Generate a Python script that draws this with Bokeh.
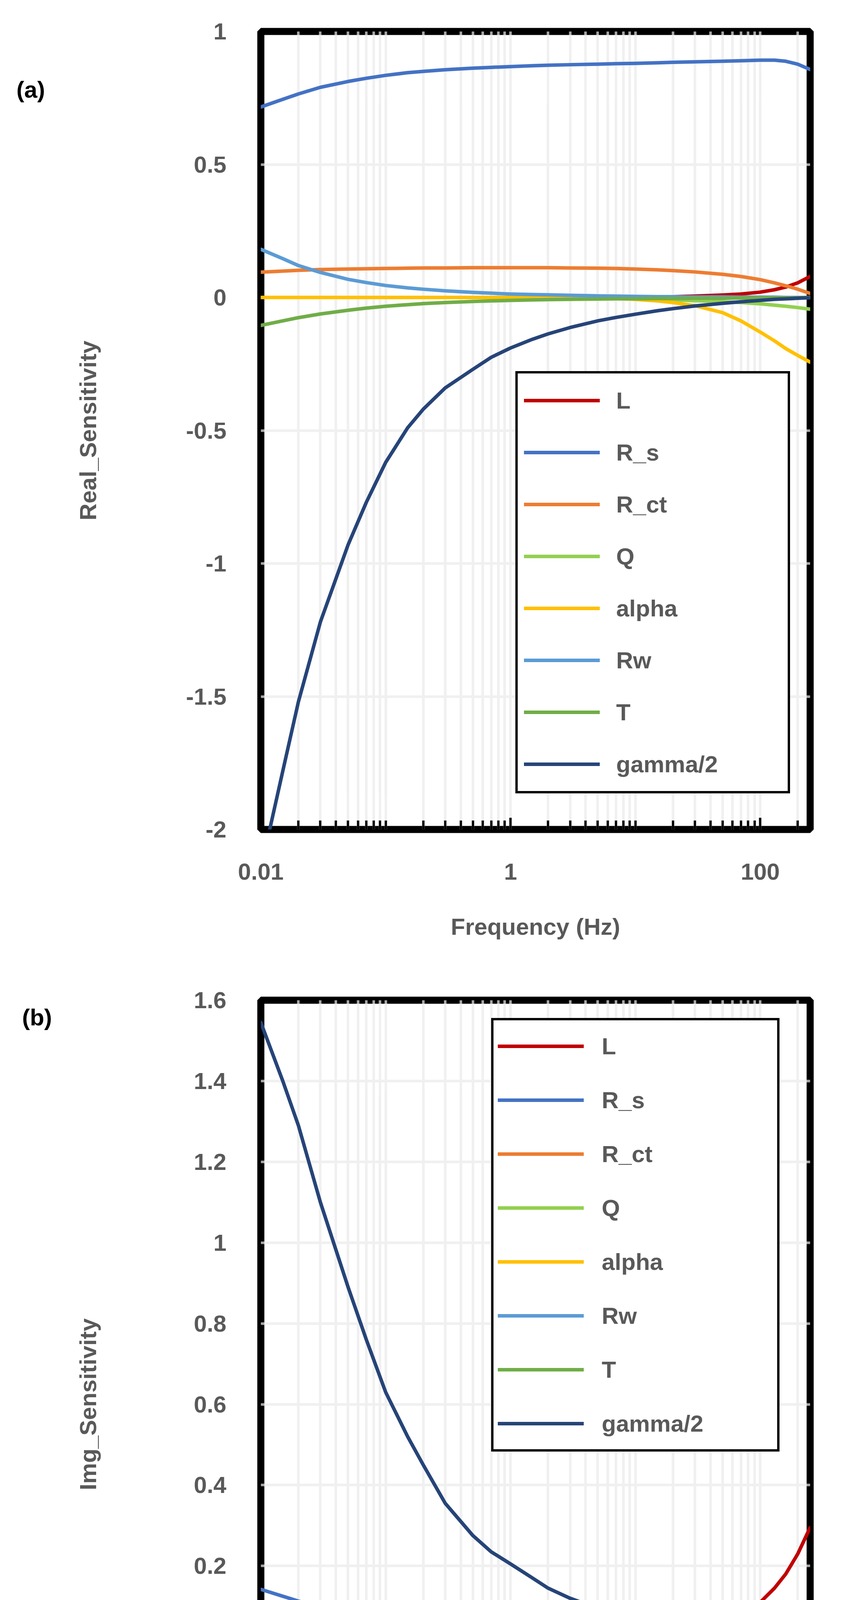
import math
from bokeh.plotting import figure
from bokeh.models import (Range1d, FixedTicker, Legend, LegendItem, Label,
                          BoxAnnotation)
from bokeh.layouts import column
from bokeh.embed import file_html
from bokeh.resources import INLINE

# ---------------- data ----------------
FREQ = [0.01, 0.015, 0.02, 0.03, 0.05, 0.07, 0.1, 0.15, 0.2, 0.3, 0.5, 0.7,
        1, 1.5, 2, 3, 5, 7, 10, 15, 20, 30, 50, 70, 100, 130, 160, 200, 251]

SERIES = ["L", "R_s", "R_ct", "Q", "alpha", "Rw", "T", "gamma/2"]
COLORS = ["#C00000", "#4472C4", "#ED7D31", "#92D050", "#FFC000", "#5B9BD5",
          "#70AD47", "#264478"]

# (a) real part sensitivities
REAL_L = [0, 0, 0, 0, 0, 0, 0, 0, 0, 0, 0, 0, 0, 0, 0, 0, 0.0005, 0.001, 0.001,
          0.002, 0.003, 0.005, 0.009, 0.013, 0.02, 0.029, 0.039, 0.055, 0.079]
REAL_RS = [0.716, 0.745, 0.765, 0.79, 0.812, 0.824, 0.835, 0.845, 0.85, 0.856,
           0.862, 0.865, 0.868, 0.871, 0.873, 0.875, 0.877, 0.879, 0.88, 0.882,
           0.884, 0.886, 0.888, 0.89, 0.892, 0.892, 0.888, 0.877, 0.857]
REAL_RCT = [0.095, 0.099, 0.102, 0.105, 0.107, 0.108, 0.109, 0.11, 0.111, 0.111,
            0.112, 0.112, 0.112, 0.112, 0.112, 0.111, 0.11, 0.109, 0.107, 0.104,
            0.101, 0.096, 0.087, 0.079, 0.067, 0.055, 0.044, 0.031, 0.015]
REAL_Q = [0, 0, 0, 0, 0, 0, 0, 0, 0, 0, 0, 0, 0, 0, 0, -0.001, -0.002, -0.003,
          -0.004, -0.007, -0.009, -0.012, -0.016, -0.019, -0.024, -0.029, -0.033,
          -0.038, -0.044]
REAL_ALPHA = [0, 0, 0, 0, 0, 0, 0, 0, 0, 0, 0, 0, 0, 0, -0.001, -0.001, -0.003,
              -0.004, -0.007, -0.013, -0.019, -0.031, -0.057, -0.088, -0.13,
              -0.163, -0.192, -0.218, -0.243]
REAL_RW = [0.181, 0.146, 0.12, 0.094, 0.068, 0.056, 0.045, 0.036, 0.031, 0.025,
           0.019, 0.016, 0.013, 0.011, 0.01, 0.008, 0.006, 0.005, 0.004, 0.003,
           0.003, 0.002, 0.002, 0.001, 0.001, 0.001, 0, 0, 0]
REAL_T = [-0.105, -0.088, -0.076, -0.062, -0.048, -0.04, -0.033, -0.027, -0.023,
          -0.019, -0.015, -0.013, -0.011, -0.009, -0.008, -0.007, -0.006, -0.005,
          -0.005, -0.004, -0.004, -0.003, -0.003, -0.002, -0.002, -0.001, -0.001,
          -0.001, 0]
REAL_GAMMA = [-2.15, -1.78, -1.52, -1.22, -0.93, -0.77, -0.62, -0.49, -0.42,
              -0.34, -0.27, -0.225, -0.19, -0.157, -0.137, -0.113, -0.088, -0.075,
              -0.063, -0.05, -0.042, -0.032, -0.022, -0.016, -0.011, -0.007,
              -0.005, -0.003, -0.001]

# (b) imaginary part sensitivities
IMG_L = [0, 0, 0, 0, 0, 0, 0, 0, 0, 0, 0, 0, 0, 0.001, 0.002, 0.003, 0.005,
         0.008, 0.011, 0.016, 0.022, 0.032, 0.052, 0.075, 0.11, 0.145, 0.18,
         0.23, 0.295]
IMG_RS = [0.142, 0.125, 0.113, 0.098, 0.08, 0.07, 0.06, 0.05, 0.044, 0.036,
          0.028, 0.023, 0.019, 0.015, 0.012, 0.009, 0.005, 0.002, -0.001, -0.005,
          -0.009, -0.016, -0.032, -0.05, -0.075, -0.1, -0.13, -0.175, -0.235]
IMG_RCT = [0.02, 0.017, 0.015, 0.013, 0.011, 0.009, 0.008, 0.007, 0.006, 0.005,
           0.003, 0.002, 0.001, -0.001, -0.002, -0.004, -0.008, -0.011, -0.015,
           -0.02, -0.024, -0.03, -0.038, -0.045, -0.051, -0.056, -0.057, -0.056,
           -0.052]
IMG_Q = [0, 0, 0, 0, 0, 0, 0, 0, 0, 0, 0, 0, 0, 0, 0, -0.001, -0.002, -0.003,
         -0.004, -0.005, -0.006, -0.008, -0.011, -0.013, -0.014, -0.013, -0.01,
         -0.006, -0.001]
IMG_ALPHA = [-0.002, -0.002, -0.002, -0.002, -0.002, -0.002, -0.002, -0.002,
             -0.002, -0.002, -0.002, -0.002, -0.003, -0.004, -0.005, -0.008,
             -0.014, -0.019, -0.026, -0.035, -0.042, -0.055, -0.075, -0.092,
             -0.105, -0.104, -0.092, -0.068, -0.03]
IMG_RW = [-0.158, -0.135, -0.12, -0.1, -0.08, -0.068, -0.057, -0.047, -0.041,
          -0.034, -0.026, -0.021, -0.017, -0.013, -0.011, -0.008, -0.006, -0.004,
          -0.003, -0.002, -0.002, -0.001, -0.001, 0, 0, 0, 0, 0, 0]
IMG_T = [0.092, 0.081, 0.074, 0.064, 0.053, 0.046, 0.04, 0.033, 0.029, 0.024,
         0.018, 0.015, 0.012, 0.009, 0.008, 0.006, 0.004, 0.003, 0.002, 0.002,
         0.001, 0.001, 0, 0, 0, 0, 0, 0, 0]
IMG_GAMMA = [1.545, 1.4, 1.29, 1.1, 0.89, 0.76, 0.63, 0.52, 0.45, 0.355, 0.275,
             0.235, 0.205, 0.17, 0.145, 0.12, 0.095, 0.08, 0.066, 0.055, 0.048,
             0.04, 0.031, 0.026, 0.02, 0.016, 0.013, 0.01, 0.007]

REAL_VALUES = [REAL_L, REAL_RS, REAL_RCT, REAL_Q, REAL_ALPHA, REAL_RW, REAL_T, REAL_GAMMA]
IMG_VALUES = [IMG_L, IMG_RS, IMG_RCT, IMG_Q, IMG_ALPHA, IMG_RW, IMG_T, IMG_GAMMA]

X_TICKS = [0.01, 1, 100]
X_TICK_LABELS = ["0.01", "1", "100"]
Y1_TICKS = [-2, -1.5, -1, -0.5, 0, 0.5, 1]
Y1_TICK_LABELS = ["-2", "-1.5", "-1", "-0.5", "0", "0.5", "1"]
Y2_TICKS = [-0.4, -0.2, 0, 0.2, 0.4, 0.6, 0.8, 1, 1.2, 1.4, 1.6]
Y2_TICK_LABELS = ["-0.4", "-0.2", "0", "0.2", "0.4", "0.6", "0.8", "1", "1.2",
                  "1.4", "1.6"]

X_LABEL = "Frequency (Hz)"
Y1_LABEL = "Real_Sensitivity"
Y2_LABEL = "Img_Sensitivity"

# ---------------- styling ----------------
FONT = "Liberation Sans"
FS = "60px"
GRAY = "#595959"
GRID = "#F0F0F0"
X_MIN, X_MAX = 0.01, 251.19

MINOR_X = []
for e in range(-2, 3):
    for m in range(1, 10):
        v = round(m * 10 ** e, 6)
        if X_MIN <= v <= X_MAX and v not in X_TICKS:
            MINOR_X.append(v)


def x_at(px, fw):
    """data x of a point px pixels right of the frame's left edge"""
    return 10 ** (math.log10(X_MIN) + px / fw * math.log10(X_MAX / X_MIN))


def y_at(px, fh, y_rng):
    """data y of a point px pixels below the frame's top edge"""
    return y_rng[1] - px / fh * (y_rng[1] - y_rng[0])


def make_panel(values, y_ticks, y_tick_labels, y_rng, fw, fh, left, right, top,
               bottom, ylabel, xlabel_standoff, tag, tag_px, leg):
    p = figure(x_axis_type="log",
               x_range=Range1d(X_MIN, X_MAX), y_range=Range1d(*y_rng),
               width=left + fw + right, height=top + fh + bottom,
               min_border_left=left, min_border_right=right,
               min_border_top=top, min_border_bottom=bottom,
               output_backend="svg", toolbar_location=None)

    xt = FixedTicker(ticks=X_TICKS, minor_ticks=MINOR_X)
    yt = FixedTicker(ticks=y_ticks, minor_ticks=[])

    xa = p.xaxis[0]
    xa.ticker = xt
    xa.major_label_overrides = dict(zip(X_TICKS, X_TICK_LABELS))
    xa.axis_line_color = None
    xa.major_tick_in = 30
    xa.major_tick_out = 0
    xa.minor_tick_in = 23
    xa.minor_tick_out = 0
    xa.major_tick_line_color = "black"
    xa.minor_tick_line_color = "black"
    xa.major_tick_line_width = 6
    xa.minor_tick_line_width = 6
    xa.major_label_text_font = FONT
    xa.major_label_text_font_style = "bold"
    xa.major_label_text_font_size = FS
    xa.major_label_text_color = GRAY
    xa.major_label_standoff = 87
    xa.axis_label = X_LABEL
    xa.axis_label_text_font = FONT
    xa.axis_label_text_font_style = "bold"
    xa.axis_label_text_font_size = FS
    xa.axis_label_text_color = GRAY
    xa.axis_label_standoff = xlabel_standoff

    ya = p.yaxis[0]
    ya.ticker = yt
    ya.major_label_overrides = dict(zip(y_ticks, y_tick_labels))
    ya.axis_line_color = None
    ya.major_tick_in = 0
    ya.major_tick_out = 0
    ya.minor_tick_in = 0
    ya.minor_tick_out = 0
    ya.major_label_text_font = FONT
    ya.major_label_text_font_style = "bold"
    ya.major_label_text_font_size = FS
    ya.major_label_text_color = GRAY
    ya.major_label_standoff = 88
    ya.axis_label = ylabel
    ya.axis_label_text_font = FONT
    ya.axis_label_text_font_style = "bold"
    ya.axis_label_text_font_size = FS
    ya.axis_label_text_color = GRAY
    ya.axis_label_standoff = 214

    p.xgrid.grid_line_color = GRID
    p.xgrid.grid_line_width = 6.5
    p.xgrid.minor_grid_line_color = GRID
    p.xgrid.minor_grid_line_width = 6.5
    p.ygrid.grid_line_color = GRID
    p.ygrid.grid_line_width = 6.5

    p.outline_line_color = "black"
    p.outline_line_width = 18
    # frame drawn again above the grid (but below the data lines)
    p.add_layout(BoxAnnotation(left=X_MIN, right=X_MAX, bottom=y_rng[0],
                               top=y_rng[1], fill_color=None,
                               line_color="black", line_width=18,
                               level="underlay"))

    items = []
    for name, color, vals in zip(SERIES, COLORS, values):
        r = p.line(FREQ, vals, line_color=color, line_width=9,
                   line_cap="round", line_join="round")
        items.append(LegendItem(label=name, renderers=[r]))

    legend = Legend(items=items, location=leg["loc"], margin=0,
                    padding=leg["padding"], spacing=leg["spacing"],
                    glyph_width=leg["glyph_w"], glyph_height=leg["row_h"],
                    label_height=leg["row_h"], label_width=leg["label_w"],
                    label_standoff=leg["standoff"],
                    label_text_font=FONT, label_text_font_style="bold",
                    label_text_font_size=FS, label_text_color=GRAY,
                    border_line_color="black", border_line_width=6,
                    border_line_alpha=1.0,
                    background_fill_color="white", background_fill_alpha=1.0)
    p.add_layout(legend)

    # panel tag, outside the frame, lives in the left side panel
    p.add_layout(Label(x=x_at(tag_px[0], fw), y=y_at(tag_px[1], fh, y_rng),
                       text=tag, text_align="left",
                       text_baseline="alphabetic", text_font=FONT,
                       text_font_style="bold", text_font_size=FS,
                       text_color="black"), "left")
    return p


p1 = make_panel(REAL_VALUES, Y1_TICKS, Y1_TICK_LABELS, (-2, 1),
                fw=1407, fh=2043, left=666, right=89, top=80, bottom=357,
                ylabel=Y1_LABEL, xlabel_standoff=84, tag="(a)",
                tag_px=(-626, 149),
                leg=dict(loc=(652, 92), padding=16, spacing=27, row_h=106,
                         glyph_w=194, standoff=42, label_w=423))

p2 = make_panel(IMG_VALUES, Y2_TICKS, Y2_TICK_LABELS, (-0.4, 1.6),
                fw=1438, fh=2069, left=667, right=57, top=80, bottom=332,
                ylabel=Y2_LABEL, xlabel_standoff=78, tag="(b)",
                tag_px=(-625, 44),
                leg=dict(loc=(590, 913), padding=11, spacing=28, row_h=110,
                         glyph_w=220, standoff=46, label_w=438))

layout = column(p1, p2)

with open("out.html", "w") as f:
    f.write(file_html(layout, INLINE))
